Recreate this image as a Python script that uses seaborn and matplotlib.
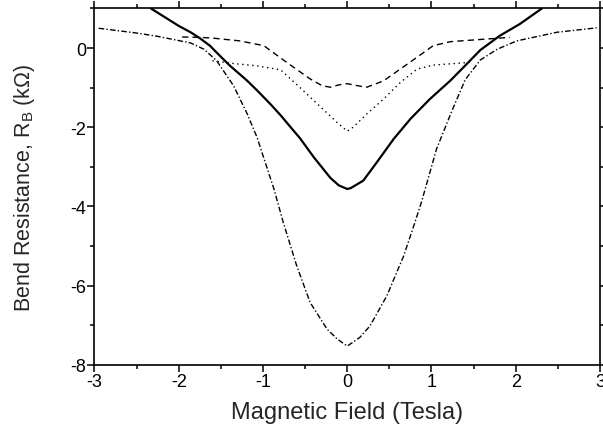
import matplotlib
matplotlib.use("Agg")
import matplotlib.pyplot as plt
import seaborn as sns
import pandas as pd
from matplotlib.ticker import MultipleLocator

# field (Tesla) / bend resistance (kOhm)
solid_x = [-2.33, -2.0, -1.86, -1.75, -1.63, -1.5, -1.39, -1.19, -1.07, -0.91, -0.79,
           -0.64, -0.56, -0.40, -0.20, -0.10, 0.0, 0.04, 0.19, 0.35, 0.55, 0.75, 0.98,
           1.22, 1.42, 1.58, 1.81, 2.05, 2.31]
solid_y = [1.0, 0.56, 0.40, 0.25, 0.06, -0.22, -0.45, -0.82, -1.07, -1.42, -1.70,
           -2.08, -2.28, -2.75, -3.28, -3.47, -3.56, -3.54, -3.35, -2.89, -2.30, -1.79, -1.29,
           -0.83, -0.40, -0.05, 0.31, 0.61, 1.0]

dash_x = [-1.96, -1.74, -1.59, -1.27, -0.99, -0.72, -0.44, -0.30, -0.20, -0.10, 0.0,
          0.12, 0.23, 0.43, 0.63, 0.83, 1.02, 1.22, 1.34, 1.60, 1.93]
dash_y = [0.28, 0.27, 0.25, 0.18, 0.06, -0.36, -0.78, -0.95, -0.99, -0.93, -0.90,
          -0.95, -0.99, -0.83, -0.53, -0.23, 0.06, 0.16, 0.18, 0.22, 0.27]

dot_x = [-1.60, -1.35, -1.07, -0.79, -0.56, -0.36, -0.12, 0.0,
         0.07, 0.23, 0.43, 0.63, 0.83, 1.02, 1.34, 1.45]
dot_y = [-0.32, -0.39, -0.45, -0.55, -1.0, -1.40, -1.88, -2.10,
         -2.0, -1.67, -1.29, -0.87, -0.53, -0.43, -0.38, -0.36]

dd_x = [-2.95, -2.50, -2.26, -1.98, -1.86, -1.70, -1.55, -1.35, -1.19, -1.07, -0.87,
        -0.76, -0.60, -0.44, -0.24, -0.12, 0.0, 0.15, 0.27, 0.47, 0.67, 0.79, 0.88,
        1.06, 1.24, 1.40, 1.58, 1.78, 2.01, 2.49, 2.96]
dd_y = [0.50, 0.38, 0.30, 0.18, 0.13, -0.03, -0.32, -0.95, -1.65, -2.26, -3.56,
        -4.40, -5.50, -6.43, -7.10, -7.35, -7.53, -7.31, -7.02, -6.26, -5.25, -4.49, -3.90,
        -2.55, -1.60, -0.80, -0.30, -0.03, 0.18, 0.40, 0.51]

sns.set_style("ticks")
plt.rcParams["font.family"] = ["Liberation Sans", "DejaVu Sans"]
plt.rcParams["mathtext.default"] = "regular"
plt.rcParams["axes.unicode_minus"] = False

fig = plt.figure(figsize=(6.03, 4.35), dpi=100)
ax = fig.add_axes([0.1567, 0.1593, 0.8383, 0.8189])

curves = [
    (solid_x, solid_y, "-", 1.6),
    (dash_x, dash_y, (0, (4.5, 3)), 1.0),
    (dot_x, dot_y, (0, (1, 2.6)), 1.0),
    (dd_x, dd_y, (0, (4, 1.6, 1, 1.6)), 1.0),
]
for xs, ys, ls, lw in curves:
    df = pd.DataFrame({"B": xs, "R": ys})
    sns.lineplot(data=df, x="B", y="R", ax=ax, color="black", linestyle=ls,
                 linewidth=lw, errorbar=None)

ax.set_xlim(-3, 3)
ax.set_ylim(-8, 1)
ax.xaxis.set_major_locator(MultipleLocator(1))
ax.xaxis.set_minor_locator(MultipleLocator(0.5))
ax.yaxis.set_major_locator(MultipleLocator(2))
ax.yaxis.set_minor_locator(MultipleLocator(1))
ax.tick_params(which="both", direction="out", top=True, right=True, width=1.1,
               color="black", labelsize=13, labelcolor="black")
ax.tick_params(which="major", length=5, pad=1)
ax.tick_params(which="minor", length=3)
for s in ax.spines.values():
    s.set_linewidth(1.2)
    s.set_color("black")

ax.set_xlabel("Magnetic Field (Tesla)", fontsize=17, labelpad=8)
ax.set_ylabel("Bend Resistance, R$_B$ (k\u03a9)", fontsize=15.5, labelpad=24)

fig.savefig("out.png", dpi=100)
